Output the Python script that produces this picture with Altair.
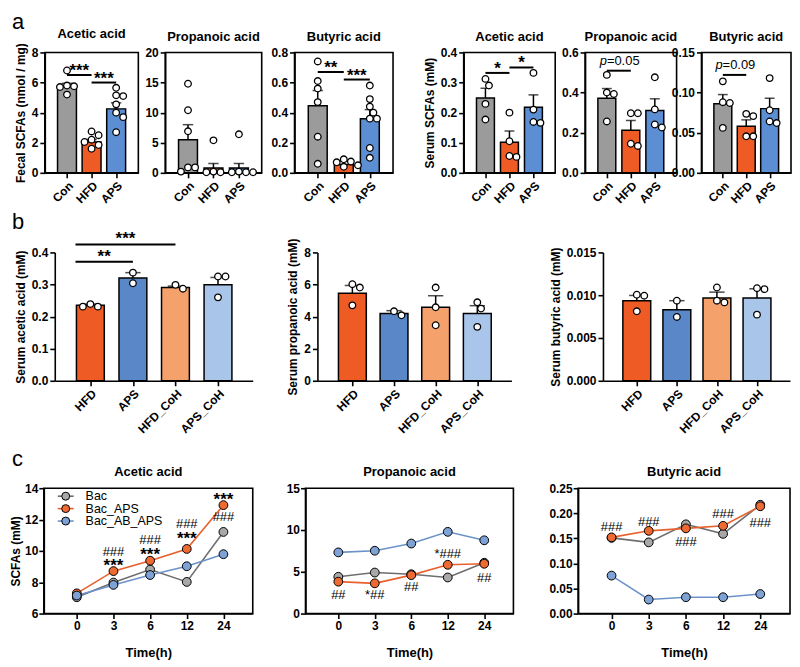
import altair as alt
import pandas as pd

FONT = "Liberation Sans"

# ---------------- data ----------------
GROUPS_A = ["Con", "HFD", "APS"]
GROUPS_B = ["HFD", "APS", "HFD_CoH", "APS_CoH"]
COL_A = ["#9B9B9B", "#EF5B25", "#5B8ED3"]
COL_B = ["#EF5B25", "#5A87C8", "#F4A16B", "#A9C5EA"]

# panel a, fecal
fa_mean = [5.75, 2.05, 4.25]
fa_err = [5.95, 2.22, 4.65]
fa_pts = [[6.8, 5.8, 5.75, 5.7, 5.2], [2.75, 2.5, 2.2, 2.05, 1.85, 1.6], [5.65, 5.15, 5.1, 4.55, 4.0, 3.7, 2.7]]
fp_mean = [5.5, 0.8, 0.8]
fp_err = [8.0, 1.55, 1.55]
fp_pts = [[14.8, 10.4, 6.9, 0.9, 0.9, 0.2], [5.4, 0.2, 0.1, 0.1], [6.4, 0.2, 0.1, 0.1, 0.1]]
fb_mean = [0.445, 0.055, 0.36]
fb_err = [0.547, 0.077, 0.42]
fb_pts = [[0.74, 0.61, 0.56, 0.47, 0.24, 0.06], [0.09, 0.075, 0.07, 0.05, 0.04],
          [0.58, 0.49, 0.44, 0.40, 0.36, 0.36, 0.165, 0.10]]
# panel a, serum
sa_mean = [0.249, 0.102, 0.218]
sa_err = [0.281, 0.139, 0.259]
sa_pts = [[0.312, 0.29, 0.229, 0.177], [0.2, 0.105, 0.056, 0.053], [0.332, 0.21, 0.169, 0.166]]
sp_mean = [0.372, 0.212, 0.311]
sp_err = [0.42, 0.261, 0.369]
sp_pts = [[0.488, 0.40, 0.393, 0.256], [0.297, 0.297, 0.145, 0.134], [0.476, 0.316, 0.241, 0.226]]
sb_mean = [0.086, 0.058, 0.080]
sb_err = [0.0975, 0.066, 0.093]
sb_pts = [[0.114, 0.088, 0.087, 0.056], [0.0735, 0.0707, 0.0455, 0.0455], [0.118, 0.078, 0.064, 0.062]]
# panel b
ba_mean = [0.235, 0.32, 0.291, 0.299]
ba_err = [0.239, 0.337, 0.295, 0.322]
ba_pts = [[0.239, 0.231, 0.231], [0.337, 0.304], [0.299, 0.287], [0.325, 0.325, 0.26]]
bp_mean = [5.46, 4.19, 4.58, 4.19]
bp_err = [5.94, 4.37, 5.3, 4.68]
bp_pts = [[6.02, 5.81, 4.7], [4.33, 4.08], [5.81, 4.58, 3.46], [4.89, 4.5, 3.36]]
bb_mean = [0.00936, 0.00831, 0.00966, 0.00966]
bb_err = [0.00997, 0.00936, 0.01036, 0.01075]
bb_pts = [[0.01005, 0.00994, 0.00812], [0.00936, 0.00746], [0.0109, 0.00936, 0.00916], [0.01082, 0.01071, 0.00773]]

# significance brackets (from group, to group, height, label)
fa_sig = [(0, 1, 6.5, "***"), (1, 2, 6.0, "***")]
fb_sig = [(0, 1, 0.67, "**"), (1, 2, 0.62, "***")]
sa_sig = [(0, 1, 0.332, "*"), (1, 2, 0.35, "*")]
sp_p = [(0, 1, 0.509, "=0.05")]
sb_p = [(0, 1, 0.122, "=0.09")]
ba_sig = [(-0.35, 1, 0.371, "**"), (-0.35, 2, 0.425, "***")]

# panel c
TIMES = ["0", "3", "6", "12", "24"]
SERIES = ["Bac", "Bac_APS", "Bac_AB_APS"]
LINE_COLS = ["#6E6E6E", "#E8602C", "#6C93C9"]
FILL_COLS = ["#A8A8A8", "#EE6A33", "#7FA2D6"]
c_ac = {"Bac": [7.04, 7.98, 8.81, 8.02, 11.21],
        "Bac_APS": [7.29, 8.71, 9.375, 10.125, 12.92],
        "Bac_AB_APS": [7.15, 7.83, 8.46, 9.02, 9.79]}
c_pr = {"Bac": [4.4, 4.91, 4.71, 4.32, 6.08],
        "Bac_APS": [3.82, 3.62, 4.6, 5.84, 5.96],
        "Bac_AB_APS": [7.32, 7.52, 8.38, 9.78, 8.77]}
c_bu = {"Bac": [0.151, 0.142, 0.178, 0.159, 0.217],
        "Bac_APS": [0.152, 0.165, 0.170, 0.175, 0.214],
        "Bac_AB_APS": [0.0757, 0.028, 0.0326, 0.0326, 0.039]}
c_ac_ann = [(1, 9.96, "###"), (1, 9.29, "***"), (2, 10.69, "###"), (2, 9.96, "***"),
            (3, 11.73, "###"), (3, 11.04, "***"), (4, 13.5, "***"), (4, 12.19, "###")]
c_pr_ann = [(0, 2.18, "##"), (1, 2.18, "*##"), (2, 3.16, "##"), (3, 7.13, "*###"), (4, 4.28, "##")]
c_bu_ann = [(0, 0.172, "###"), (1, 0.183, "###"), (2, 0.142, "###"), (3, 0.198, "###"), (4, 0.181, "###")]


# ---------------- helpers ----------------
def swarm(values, px_x, px_y, d=7.2):
    placed = []
    res = [0.0] * len(values)
    order = sorted(range(len(values)), key=lambda i: -values[i])
    cands = [0.0]
    for j in range(1, 12):
        cands += [j * 0.55 * d, -j * 0.55 * d]
    for i in order:
        vy = values[i] * px_y
        chosen = cands[-1]
        for c in cands:
            if all((c - px) ** 2 + (vy - py) ** 2 >= (0.95 * d) ** 2 for px, py in placed):
                chosen = c
                break
        placed.append((chosen, vy))
        res[i] = chosen / px_x
    return res


def ticks(lo, hi, step):
    n = int(round((hi - lo) / step))
    return [round(lo + k * step, 6) for k in range(n + 1)]


def letter_cell(letter, w, h, lx, ly):
    return alt.Chart(pd.DataFrame({"t": [letter]})).mark_text(
        font=FONT, fontSize=22, align="left", baseline="alphabetic", color="black"
    ).encode(text="t:N", x=alt.value(lx), y=alt.value(ly)).properties(width=w, height=h)


def bar_panel(groups, colors, means, errs, pts, ymax, ystep, yfmt, width, height, bar_w, dom,
              title=None, ytitle=None, box=True, sigs=(), ptexts=(), sig_dy=1):
    n = len(groups)
    idx = list(range(n))
    labexpr = "[" + ",".join("'%s'" % g for g in groups) + "][datum.value]"
    xs = alt.Scale(domain=dom, nice=False, zero=False)
    xa = alt.Axis(values=idx, labelExpr=labexpr, labelAngle=-45, title=None, labelOverlap=False,
                  labelBound=False, labelFlush=False)
    ys = alt.Scale(domain=[0, ymax], nice=False, zero=False)
    ya = alt.Axis(values=ticks(0, ymax, ystep), format=yfmt, title=ytitle if ytitle else None,
                  labelOverlap=False)

    def X(f):
        return alt.X(f + ":Q", scale=xs, axis=xa)

    def Y(f):
        return alt.Y(f + ":Q", scale=ys, axis=ya)

    bars = pd.DataFrame({"i": idx, "g": groups, "m": means, "e": errs})
    px_x = width / (dom[1] - dom[0])
    px_y = height / ymax
    rows = []
    for i, vals in enumerate(pts):
        for v, o in zip(vals, swarm(vals, px_x, px_y)):
            rows.append({"x": i + o, "v": v})
    pdf = pd.DataFrame(rows)

    layers = [
        alt.Chart(bars).mark_bar(size=bar_w, stroke="black", strokeWidth=1.5).encode(
            x=X("i"), y=Y("m"),
            fill=alt.Fill("g:N", scale=alt.Scale(domain=groups, range=colors), legend=None)),
        alt.Chart(bars).mark_rule(color="black", strokeWidth=1.5).encode(x=X("i"), y=Y("m"), y2="e:Q"),
        alt.Chart(bars).mark_tick(orient="horizontal", color="black", thickness=1.5,
                                  size=bar_w * 0.55).encode(x=X("i"), y=Y("e")),
        alt.Chart(pdf).mark_point(shape="circle", filled=True, fill="white", stroke="black",
                                  strokeWidth=1.3, size=44, opacity=1).encode(x=X("x"), y=Y("v")),
    ]
    if sigs:
        sdf = pd.DataFrame([{"x1": a, "x2": b, "y": y, "t": t, "xm": (a + b) / 2} for a, b, y, t in sigs])
        layers.append(alt.Chart(sdf).mark_rule(color="black", strokeWidth=2).encode(
            x=X("x1"), x2="x2:Q", y=Y("y")))
        layers.append(alt.Chart(sdf).mark_text(font=FONT, fontSize=17, fontWeight="bold",
                                               baseline="alphabetic", dy=sig_dy, color="black").encode(
            x=X("xm"), y=Y("y"), text="t:N"))
    if ptexts:
        pdf2 = pd.DataFrame([{"x1": a, "x2": b, "y": y, "t": t, "p": "p", "xm": (a + b) / 2}
                             for a, b, y, t in ptexts])
        layers.append(alt.Chart(pdf2).mark_rule(color="black", strokeWidth=2).encode(
            x=X("x1"), x2="x2:Q", y=Y("y")))
        layers.append(alt.Chart(pdf2).mark_text(font=FONT, fontSize=13, fontStyle="italic",
                                                align="right", baseline="alphabetic", dx=-12, dy=-6,
                                                color="black").encode(x=X("xm"), y=Y("y"), text="p:N"))
        layers.append(alt.Chart(pdf2).mark_text(font=FONT, fontSize=13, align="left",
                                                baseline="alphabetic", dx=-12, dy=-6,
                                                color="black").encode(x=X("xm"), y=Y("y"), text="t:N"))
    props = dict(width=width, height=height)
    if title:
        props["title"] = alt.TitleParams(text=title, font=FONT, fontSize=13, fontWeight="bold",
                                         offset=2, color="black")
    if box:
        props["view"] = alt.ViewBackground(stroke="black", strokeWidth=1.6)
    return alt.layer(*layers).properties(**props)


def legend_layers():
    out = []
    ys = [8, 20.5, 33]
    for k, s in enumerate(SERIES):
        d = pd.DataFrame({"t": [s]})
        out.append(alt.Chart(d).mark_rule(color=LINE_COLS[k], strokeWidth=1.6).encode(
            x=alt.value(14), x2=alt.value(30), y=alt.value(ys[k])))
        out.append(alt.Chart(d).mark_circle(size=64, fill=FILL_COLS[k], stroke="black", strokeWidth=1,
                                            opacity=1).encode(x=alt.value(22), y=alt.value(ys[k])))
        out.append(alt.Chart(d).mark_text(font=FONT, fontSize=12.5, align="left", baseline="middle",
                                          color="black").encode(
            x=alt.value(42), y=alt.value(ys[k]), text="t:N"))
    return out


def line_panel(title, data, ydom, ystep, yfmt, width, height, annots, ytitle=None, legend=False):
    df = pd.DataFrame([{"s": s, "ser": s, "i": i, "v": v} for s in SERIES for i, v in enumerate(data[s])])
    labexpr = "[" + ",".join("'%s'" % t for t in TIMES) + "][datum.value]"
    xs = alt.Scale(domain=[-0.9, 4.8], nice=False, zero=False)
    xa = alt.Axis(values=list(range(len(TIMES))), labelExpr=labexpr, labelAngle=0, title="Time(h)",
                  titlePadding=15, titleFontSize=13, labelOverlap=False)
    ys = alt.Scale(domain=ydom, nice=False, zero=False)
    ya = alt.Axis(values=ticks(ydom[0], ydom[1], ystep), format=yfmt, title=ytitle if ytitle else None,
                  labelOverlap=False, labelPadding=1, titlePadding=2)

    def X(f):
        return alt.X(f + ":Q", scale=xs, axis=xa)

    def Y(f):
        return alt.Y(f + ":Q", scale=ys, axis=ya)

    layers = [
        alt.Chart(df).mark_line(strokeWidth=1.6).encode(
            x=X("i"), y=Y("v"),
            color=alt.Color("s:N", scale=alt.Scale(domain=SERIES, range=LINE_COLS), legend=None)),
        alt.Chart(df).mark_circle(size=78, stroke="black", strokeWidth=1, opacity=1).encode(
            x=X("i"), y=Y("v"),
            fill=alt.Fill("ser:N", scale=alt.Scale(domain=SERIES, range=FILL_COLS), legend=None)),
    ]
    stars = [a for a in annots if set(a[2]) == {"*"}]
    other = [a for a in annots if set(a[2]) != {"*"}]
    if stars:
        sdf = pd.DataFrame([{"i": i, "y": y, "t": t} for i, y, t in stars])
        layers.append(alt.Chart(sdf).mark_text(font=FONT, fontSize=17, fontWeight="bold",
                                               baseline="middle", dy=4, color="black").encode(
            x=X("i"), y=Y("y"), text="t:N"))
    if other:
        odf = pd.DataFrame([{"i": i, "y": y, "t": t} for i, y, t in other])
        layers.append(alt.Chart(odf).mark_text(font=FONT, fontSize=13, baseline="middle",
                                               color="black").encode(
            x=X("i"), y=Y("y"), text="t:N"))
    if legend:
        layers += legend_layers()
    return alt.layer(*layers).properties(
        width=width, height=height,
        title=alt.TitleParams(text=title, font=FONT, fontSize=13, fontWeight="bold", offset=3, color="black"),
        view=alt.ViewBackground(stroke="black", strokeWidth=1.6))


def spacer(w):
    return alt.Chart(pd.DataFrame({"s": [0]})).mark_point(opacity=0).encode(
        x=alt.value(0), y=alt.value(0)).properties(width=w, height=1)


def indep(c):
    return c.resolve_scale(fill="independent", color="independent").resolve_legend(
        fill="independent", color="independent")


# ---------------- panels ----------------
HA = 121
DOM_A = [-0.7, 2.7]
a1 = bar_panel(GROUPS_A, COL_A, fa_mean, fa_err, fa_pts, 8, 2, "d", 94, HA, 19, DOM_A,
               title="Acetic acid", ytitle="Fecal SCFAs (nmol / mg)", sigs=fa_sig)
a2 = bar_panel(GROUPS_A, COL_A, fp_mean, fp_err, fp_pts, 20, 5, "d", 97, HA, 19, DOM_A,
               title="Propanoic acid")
a3 = bar_panel(GROUPS_A, COL_A, fb_mean, fb_err, fb_pts, 0.8, 0.2, ".1f", 99, HA, 19, DOM_A,
               title="Butyric acid", sigs=fb_sig)
a4 = bar_panel(GROUPS_A, COL_A, sa_mean, sa_err, sa_pts, 0.4, 0.1, ".1f", 92, HA, 18, DOM_A,
               title="Acetic acid", ytitle="Serum SCFAs (mM)", sigs=sa_sig)
a5 = bar_panel(GROUPS_A, COL_A, sp_mean, sp_err, sp_pts, 0.6, 0.2, ".1f", 92, HA, 18, DOM_A,
               title="Propanoic acid", ptexts=sp_p)
a6 = bar_panel(GROUPS_A, COL_A, sb_mean, sb_err, sb_pts, 0.15, 0.05, ".2f", 90, HA, 18, DOM_A,
               title="Butyric acid", ptexts=sb_p)

HB = 129
DOM_B = [-0.72, 3.7]
b1 = bar_panel(GROUPS_B, COL_B, ba_mean, ba_err, ba_pts, 0.4, 0.1, ".1f", 199, HB, 28, DOM_B,
               ytitle="Serum acetic acid (mM)", box=False, sigs=ba_sig, sig_dy=0)
b2 = bar_panel(GROUPS_B, COL_B, bp_mean, bp_err, bp_pts, 8, 2, "d", 195, HB, 28, DOM_B,
               ytitle="Serum propanoic acid (mM)", box=False)
b3 = bar_panel(GROUPS_B, COL_B, bb_mean, bb_err, bb_pts, 0.015, 0.005, ".3f", 188, HB, 28, DOM_B,
               ytitle="Serum butyric acid (mM)", box=False)

HC = 126
c1 = line_panel("Acetic acid", c_ac, [6, 14], 2, "d", 210, HC, c_ac_ann, ytitle="SCFAs (mM)", legend=True)
c2 = line_panel("Propanoic acid", c_pr, [0, 15], 5, "d", 209, HC, c_pr_ann)
c3 = line_panel("Butyric acid", c_bu, [0, 0.25], 0.05, ".2f", 213, HC, c_bu_ann)

rowA = indep(alt.hconcat(letter_cell("a", 2, HA, -31, -24), a1, spacer(27), a2, spacer(33), a3, spacer(71),
                         a4, spacer(30), a5, spacer(25), a6, spacing=0, bounds="flush"))
rowB = indep(alt.hconcat(letter_cell("b", 12, HB, -31, -24), b1, spacer(65), b2, spacer(92), b3,
                         spacing=0, bounds="flush"))
rowC = indep(alt.hconcat(letter_cell("c", 1, HC, -31, -22), c1, spacer(53), c2, spacer(65), c3,
                         spacing=0, bounds="flush"))

top = indep(alt.vconcat(rowA, rowB, spacing=3))
chart = indep(alt.vconcat(top, rowC, spacing=12)).properties(padding=0)

chart = chart.configure_view(stroke="transparent").configure_axis(
    domainColor="black", domainWidth=1.6, tickColor="black", tickWidth=1.6, tickSize=5,
    labelFont=FONT, labelFontWeight="bold", labelFontSize=12, labelColor="black", labelPadding=2,
    titleFont=FONT, titleFontWeight="bold", titleFontSize=12, titleColor="black", titlePadding=4,
    grid=False
)

chart.save("out.html", embed_options={"renderer": "svg", "actions": False})
